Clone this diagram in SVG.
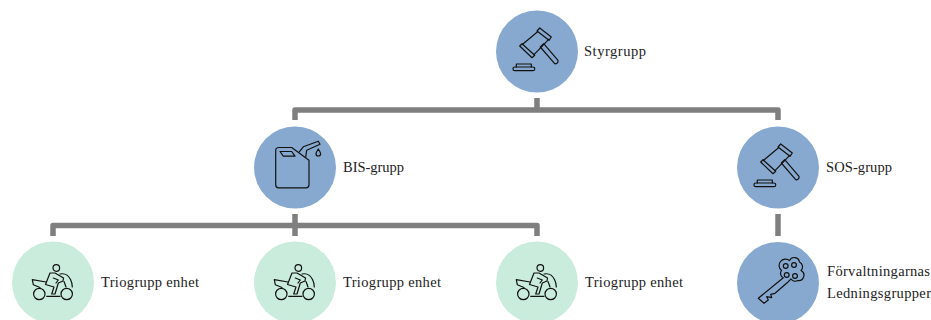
<svg xmlns="http://www.w3.org/2000/svg" width="931" height="320" viewBox="0 0 931 320">
<style>
.blue{fill:#88a9cf}
.green{fill:#caecdc}
.ic{fill:none;stroke:#111;stroke-width:1.2;stroke-linejoin:round;stroke-linecap:round}
.lb{font-family:"Liberation Serif","DejaVu Serif",serif;font-size:14.5px;fill:#222}
.c{fill:none;stroke:#7f7f7f;stroke-width:5.5;stroke-linejoin:round}
</style>
<defs>
<g id="gavel" class="ic">
<path d="M-17.300,-5.500L-15,-7.800L-2.300,3.800L-5,6.200Z"/>
<path d="M0,-20.500L2.700,-23.500L14.300,-14.500L12,-11.200Z"/>
<path d="M-15,-6.800L0.300,-19.500M11.700,-12.200L-3,3.200"/>
<path d="M3.300,-4.500L6.700,-7.800L21,8.800Q21.500,10.500 20,11.700Q18.700,12.500 17.700,12.200Z"/>
<rect x="-24" y="15.500" width="21.700" height="3.700" rx="1.800"/>
<path d="M-20.700,15.500V12.500H-5.700V15.500"/>
</g>
<g id="can" class="ic">
<path d="M-16,-20H-3.300L14,-7.300V17.300Q14,20.300 11,20.300H-16.300Q-19.300,20.300 -19.300,17.300V-17Q-19.300,-20 -16,-20Z"/>
<path d="M-15,-16H-3.300L0,-11.300H-11.700Z"/>
<path d="M4.300,-15.700L8.300,-20.700L23.300,-26.300L25,-23.300L11.700,-17.300L10.700,-10.500"/>
<path d="M23.300,-18.500Q21,-15 21,-13.800A2.300,2.300 0 0 0 25.600,-13.800Q25.600,-15 23.300,-18.500Z"/>
</g>
<g id="bike" class="ic">
<circle cx="-13.700" cy="11.500" r="5.700"/>
<circle cx="13.700" cy="11.500" r="5.700"/>
<circle cx="3.300" cy="-14.500" r="3.300"/>
<path d="M-6.300,13.800H7"/>
<path d="M-3,-9.500H2L10.500,-4.500L10,-1.500L5.300,0.500L2,11.500H-1.300L1,4.500L-7.500,2L-3,-9.500"/>
<path d="M0.300,-4.500L5.300,-2.500L3,0.500"/>
<path d="M-20.700,-2.800L-7,-0.500M-20.700,-2.800L-19.700,2.200L-13,5"/>
<path d="M7,-8.500Q14,-10 17.500,-3Q19.500,1 19.300,4.500"/>
<path d="M11,-1L13,4.500"/>
</g>
<g id="key" class="ic">
<path d="M5.300,-5.300A4.800,4.800 0 0 1 3.500,-12.500A5.300,5.300 0 0 1 11.500,-22.500A5.300,5.300 0 0 1 21.500,-21A5.300,5.300 0 0 1 23,-12.500A5.300,5.300 0 0 1 20,-2.500A5.300,5.300 0 0 1 13,-4L10.300,-1.300L-3,10.300L-7.300,11.300L-6.300,14.700L-11.300,13.700L-9.700,17L-14,20.300L-19.700,15.300Z"/>
<circle cx="7.700" cy="-17" r="2.400"/>
<circle cx="16" cy="-18" r="2.400"/>
<circle cx="8.700" cy="-8" r="2.400"/>
<circle cx="17" cy="-7" r="2.400"/>
</g>
</defs>
<g id="connectors">
<path class="c" d="M537,98V110M295,120V110H778V120"/>
<path class="c" d="M295,214V225.500M53,236V225.500H537V236M295,225.500V236"/>
<path class="c" d="M778,214V236"/>
</g>
<g id="styrgrupp"><circle class="blue" cx="537" cy="51.500" r="41"/><use href="#gavel" x="537" y="51.500"/><text class="lb" x="584" y="56" textLength="62">Styrgrupp</text></g>
<g id="bis-grupp"><circle class="blue" cx="295" cy="167.500" r="41"/><use href="#can" x="295" y="167.500"/><text class="lb" x="343" y="172" textLength="61">BIS-grupp</text></g>
<g id="sos-grupp"><circle class="blue" cx="778" cy="167.500" r="41"/><use href="#gavel" x="778" y="167.500"/><text class="lb" x="826" y="172" textLength="66">SOS-grupp</text></g>
<g id="trio-1"><circle class="green" cx="53" cy="282.500" r="41"/><use href="#bike" x="53" y="282.500"/><text class="lb" x="101" y="287" textLength="98">Triogrupp enhet</text></g>
<g id="trio-2"><circle class="green" cx="295" cy="282.500" r="41"/><use href="#bike" x="295" y="282.500"/><text class="lb" x="343" y="287" textLength="98">Triogrupp enhet</text></g>
<g id="trio-3"><circle class="green" cx="537" cy="282.500" r="41"/><use href="#bike" x="537" y="282.500"/><text class="lb" x="585" y="287" textLength="98">Triogrupp enhet</text></g>
<g id="forvaltning"><circle class="blue" cx="778" cy="283" r="41"/><use href="#key" x="778" y="283"/><text class="lb" x="827" y="276" textLength="103">Förvaltningarnas</text><text class="lb" x="827" y="298" textLength="104">Ledningsgrupper</text></g>
</svg>
